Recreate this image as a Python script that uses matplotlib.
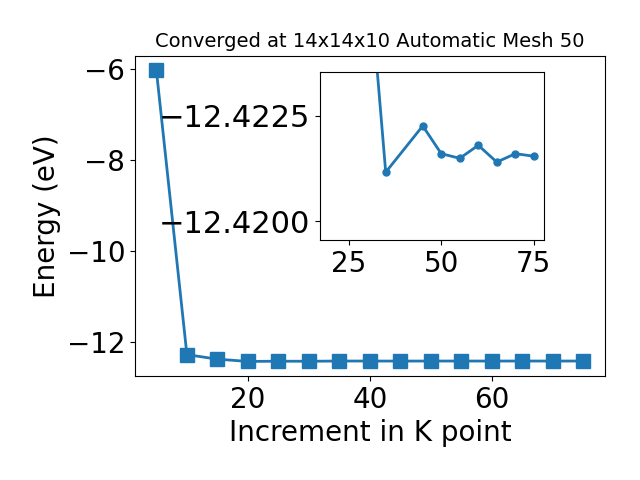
import matplotlib
matplotlib.use("Agg")
import matplotlib.pyplot as plt

kpoints = [5, 10, 15, 20, 25, 30, 35, 40, 45, 50, 55, 60, 65, 70, 75]
energy = [-6.02, -12.28, -12.38, -12.43, -12.425, -12.4264, -12.42116, -12.4215,
          -12.42226, -12.42160, -12.42149, -12.42180, -12.42140, -12.42160, -12.42154]

inset_k = [20, 25, 30, 35, 45, 50, 55, 60, 65, 70, 75]
inset_e = [-12.43, -12.425, -12.4264, -12.42116, -12.42226, -12.42160, -12.42149,
           -12.42180, -12.42140, -12.42160, -12.42154]

fig = plt.figure(figsize=(6.4, 4.8), dpi=100)
ax = fig.add_axes([0.211, 0.2167, 0.734, 0.667])
ax.plot(kpoints, energy, marker='s', markersize=10, linewidth=2, color='#1f77b4')
ax.set_xlabel('Increment in K point', fontsize=20)
ax.set_ylabel('Energy (eV)', fontsize=20)
ax.set_title('Converged at 14x14x10 Automatic Mesh 50', fontsize=14)
ax.tick_params(labelsize=20)
ax.set_yticks([-12, -10, -8, -6])
ax.set_xticks([20, 40, 60])

ins = fig.add_axes([0.5, 0.5, 0.35, 0.35])
ins.plot(inset_k, inset_e, marker='o', markersize=5, linewidth=2, color='#1f77b4')
ins.set_xlim(17.25, 77.75)
ins.set_ylim(-12.41955, -12.42354)
ins.set_yticks([-12.4225, -12.4200])
ins.set_xticks([25, 50, 75])
ins.tick_params(axis='x', labelsize=20)
ins.tick_params(axis='y', labelsize=22)

fig.savefig('out.png', dpi=100)
